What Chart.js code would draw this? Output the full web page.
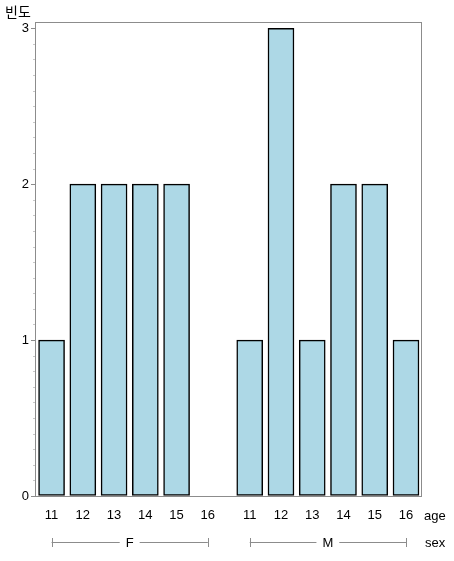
<!DOCTYPE html>
<html>
<head>
<meta charset="utf-8">
<script src="https://cdn.jsdelivr.net/npm/chart.js@4.4.1/dist/chart.umd.min.js"></script>
<style>
  html, body { margin: 0; padding: 0; background: #fff; }
  canvas { display: block; }
</style>
</head>
<body>
<canvas id="chart" width="454" height="561"></canvas>
<script>
const sexes = ['F', 'M'];
const ages = ['11', '12', '13', '14', '15', '16'];
const countsF = [1, 2, 2, 2, 2, 0];
const countsM = [1, 3, 1, 2, 2, 1];
const yTicks = [0, 1, 2, 3];
const yLabel = '빈도';

const groupGap = 0.34;
const font = "'Liberation Sans', 'Noto Sans CJK KR', sans-serif";

// x position of each bar: category index plus a gap between sex groups
const positions = [];
const values = [];
[countsF, countsM].forEach((counts, g) => {
  counts.forEach((c, i) => {
    positions.push(g * (ages.length + groupGap) + i);
    values.push(c);
  });
});

const framePlugin = {
  id: 'frame',
  afterDraw(chart) {
    const { ctx, chartArea: a, scales } = chart;
    const x = scales.x, y = scales.y;
    ctx.save();
    ctx.strokeStyle = '#8c8c8c';
    ctx.lineWidth = 1;
    ctx.strokeRect(Math.round(a.left) + 0.5, Math.round(a.top) + 0.5,
      Math.round(a.right - a.left), Math.round(a.bottom - a.top));

    // minor ticks on y axis
    ctx.strokeStyle = '#c8c8c8';
    for (let k = 1; k < 31; k++) {
      if (k % 10 === 0) continue;
      const py = Math.round(y.getPixelForValue(k / 10)) + 0.5;
      ctx.beginPath();
      ctx.moveTo(a.left - 2, py);
      ctx.lineTo(a.left, py);
      ctx.stroke();
    }

    // y title
    ctx.fillStyle = '#000';
    ctx.font = "14px 'Noto Sans CJK KR', sans-serif";
    ctx.textAlign = 'left';
    ctx.textBaseline = 'middle';
    ctx.fillText(yLabel, 5, 12);

    // group labels and brackets
    ctx.font = '13px ' + font;
    const gy = 542;
    sexes.forEach((s, g) => {
      const x0 = x.getPixelForValue(positions[g * ages.length]);
      const x1 = x.getPixelForValue(positions[g * ages.length + ages.length - 1]);
      const xm = (x0 + x1) / 2;
      const half = ctx.measureText(s).width / 2 + 6;
      ctx.strokeStyle = '#8c8c8c';
      ctx.beginPath();
      ctx.moveTo(x0, gy + 0.5); ctx.lineTo(xm - half, gy + 0.5);
      ctx.moveTo(xm + half, gy + 0.5); ctx.lineTo(x1, gy + 0.5);
      ctx.moveTo(Math.round(x0) + 0.5, gy - 4); ctx.lineTo(Math.round(x0) + 0.5, gy + 5);
      ctx.moveTo(Math.round(x1) + 0.5, gy - 4); ctx.lineTo(Math.round(x1) + 0.5, gy + 5);
      ctx.stroke();
      ctx.textAlign = 'center';
      ctx.fillText(s, xm, gy + 1);
    });
    ctx.textAlign = 'left';
    ctx.fillText('age', 424, 516);
    ctx.fillText('sex', 425, gy + 1);
    ctx.restore();
  }
};

new Chart(document.getElementById('chart'), {
  type: 'bar',
  data: {
    datasets: [{
      data: positions.map((p, i) => ({ x: p, y: values[i] })),
      backgroundColor: '#add8e6',
      borderColor: '#000',
      borderWidth: 1.5,
      borderSkipped: false,
      barThickness: 26
    }]
  },
  options: {
    responsive: false,
    animation: false,
    layout: { padding: { top: 22, right: 33, left: 0, bottom: 0 } },
    plugins: { legend: { display: false }, tooltip: { enabled: false } },
    scales: {
      x: {
        type: 'linear',
        offset: false,
        min: -0.53,
        max: 11.82,
        afterBuildTicks: (scale) => { scale.ticks = positions.map(v => ({ value: v })); },
        afterFit: (scale) => { scale.height = 65; },
        grid: { display: false, drawTicks: false, offset: false },
        border: { display: false },
        ticks: {
          autoSkip: false,
          maxRotation: 0,
          padding: 12,
          color: '#000',
          font: { family: font, size: 13 },
          callback: (v, i) => ages[i % ages.length]
        }
      },
      y: {
        min: 0,
        max: 3.04,
        afterBuildTicks: (scale) => { scale.ticks = yTicks.map(v => ({ value: v })); },
        afterFit: (scale) => { scale.width = 35; },
        grid: { drawOnChartArea: false, drawTicks: true, tickLength: 4, color: '#8c8c8c' },
        border: { color: '#8c8c8c' },
        ticks: {
          padding: 2,
          color: '#000',
          font: { family: font, size: 13 }
        }
      }
    }
  },
  plugins: [framePlugin]
});
</script>
</body>
</html>
